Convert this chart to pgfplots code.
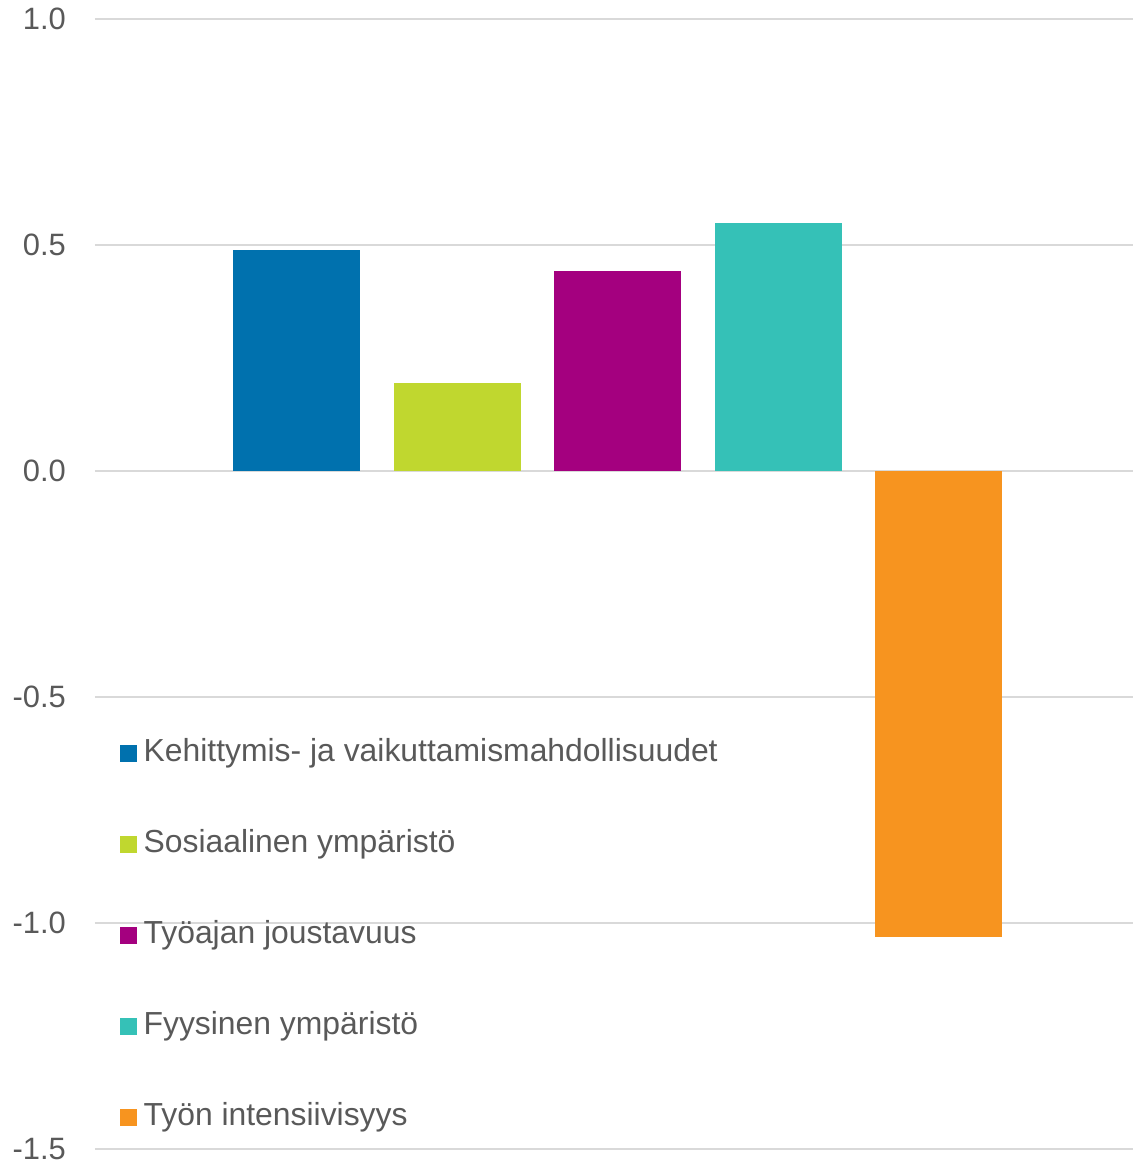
\documentclass[border=0pt]{standalone}
\usepackage{pgfplots}
\pgfplotsset{compat=1.18}
\usepackage{fontspec}
\setmainfont{Liberation Sans}
\definecolor{txtgray}{HTML}{595959}
\definecolor{gridgray}{HTML}{D9D9D9}
\definecolor{cblue}{HTML}{0071AE}
\definecolor{cgreen}{HTML}{C0D72F}
\definecolor{cpurple}{HTML}{A4007F}
\definecolor{cteal}{HTML}{35C1B7}
\definecolor{corange}{HTML}{F7941F}
\begin{document}
\begin{tikzpicture}
\begin{axis}[
  scale only axis, width=1038bp, height=1130bp,
  xmin=-0.2555, xmax=6.2118, ymin=-1.5, ymax=1.0,
  axis line style={draw=none}, tick style={draw=none},
  major tick length=0,
  xtick=\empty,
  ytick={-1.5,-1,-0.5,0,0.5,1},
  yticklabels={-1.5,-1.0,-0.5,0.0,0.5,1.0},
  ymajorgrids, grid style={draw=gridgray, line width=2bp},
  yticklabel style={font=\fontsize{31}{36}\selectfont, text=txtgray,
    inner sep=0pt, anchor=east, xshift=-29bp},
  ybar, bar width=127bp, bar shift=0pt,
  legend cell align=left,
  legend image code/.code={\fill[#1] (0bp,-8.25bp) rectangle (16.5bp,8.25bp);},
  legend style={at={(rel axis cs:0.024,0.3628)}, anchor=north west,
    draw=none, fill=none, inner sep=0pt, row sep=62bp,
    font=\fontsize{32}{38}\selectfont, text=txtgray,
    nodes={inner xsep=7bp, inner ysep=0pt, text height=22bp, text depth=7bp}},
]
\addplot[fill=cblue, draw=none] coordinates {(1,0.489)};
\addlegendentry{Kehittymis- ja vaikuttamismahdollisuudet}
\addplot[fill=cgreen, draw=none] coordinates {(2,0.195)};
\addlegendentry{Sosiaalinen ympäristö}
\addplot[fill=cpurple, draw=none] coordinates {(3,0.442)};
\addlegendentry{Työajan joustavuus}
\addplot[fill=cteal, draw=none] coordinates {(4,0.549)};
\addlegendentry{Fyysinen ympäristö}
\addplot[fill=corange, draw=none] coordinates {(5,-1.031)};
\addlegendentry{Työn intensiivisyys}
\end{axis}
\path[use as bounding box] ([xshift=-95bp,yshift=-15bp]current axis.south west)
  rectangle ([yshift=19bp]current axis.north east);
\end{tikzpicture}
\end{document}
